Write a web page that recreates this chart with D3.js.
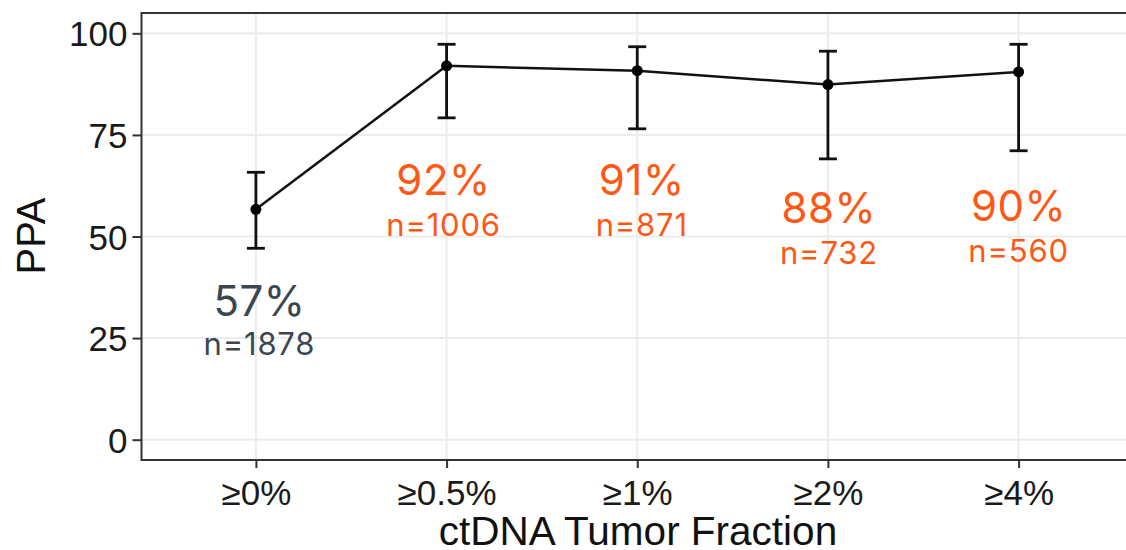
<!DOCTYPE html>
<html>
<head>
<meta charset="utf-8">
<script src="https://cdn.jsdelivr.net/npm/d3@7"></script>
<style>
  body { margin: 0; background: #fff; }
  svg { display: block; }
</style>
</head>
<body>
<svg id="chart" width="1126" height="550"></svg>
<script>
// data
var categories = ["≥0%", "≥0.5%", "≥1%", "≥2%", "≥4%"];
var ppa = [56.7, 92.0, 90.8, 87.4, 90.5];
var ciLow = [47.1, 79.2, 76.5, 69.1, 71.1];
var ciHigh = [65.8, 97.3, 96.7, 95.6, 97.3];
var pctLabels = ["57%", "92%", "91%", "88%", "90%"];
var nLabels = ["n=1878", "n=1006", "n=871", "n=732", "n=560"];
var labelAt = [30.4, 60.3, 60.3, 53.3, 53.8]; // baseline of the % label, in PPA units
var labelDx = [3.5, -3, 4.5, 1, 0];
var yTicks = [0, 25, 50, 75, 100];

var svg = d3.select("#chart");
var pLeft = 141.5, pRight = 1133, pTop = 13, pBottom = 460;

var x = d3.scalePoint().domain(categories).range([pLeft, pRight]).padding(0.6);
var y = d3.scaleLinear().domain([-5, 105]).range([pBottom, pTop]);

var rows = categories.map(function(c, i) {
  return { cat: c, v: ppa[i], lo: ciLow[i], hi: ciHigh[i], pct: pctLabels[i], n: nLabels[i],
           ly: labelAt[i], dx: labelDx[i], first: i === 0 };
});

// grid
svg.append("g").selectAll("line").data(yTicks).join("line")
  .attr("x1", pLeft).attr("x2", pRight)
  .attr("y1", function(d) { return y(d); }).attr("y2", function(d) { return y(d); })
  .attr("stroke", "#ececec").attr("stroke-width", 2);
svg.append("g").selectAll("line").data(categories).join("line")
  .attr("x1", function(d) { return x(d); }).attr("x2", function(d) { return x(d); })
  .attr("y1", pTop).attr("y2", pBottom)
  .attr("stroke", "#ececec").attr("stroke-width", 2);

// axes
var yAxis = svg.append("g").attr("transform", "translate(" + pLeft + ",0)")
  .call(d3.axisLeft(y).tickValues(yTicks).tickSize(9).tickPadding(5));
var xAxis = svg.append("g").attr("transform", "translate(0," + pBottom + ")")
  .call(d3.axisBottom(x).tickSize(8).tickPadding(4));
[yAxis, xAxis].forEach(function(g) {
  g.select(".domain").remove();
  g.selectAll(".tick line").attr("stroke", "#333").attr("stroke-width", 2);
  g.selectAll(".tick text").attr("fill", "#1a1a1a")
    .style("font-family", "'Liberation Sans', Arial, sans-serif").style("font-size", "35px");
});
yAxis.selectAll(".tick text").attr("dy", "0.36em");
xAxis.selectAll(".tick text").attr("dy", "0.95em");

// panel border
svg.append("rect").attr("x", pLeft).attr("y", pTop)
  .attr("width", pRight - pLeft).attr("height", pBottom - pTop)
  .attr("fill", "none").attr("stroke", "#333").attr("stroke-width", 2);

// line
svg.append("path").datum(rows)
  .attr("fill", "none").attr("stroke", "#111").attr("stroke-width", 2.5)
  .attr("d", d3.line().x(function(d) { return x(d.cat); }).y(function(d) { return y(d.v); }));

// error bars
var eb = svg.append("g").attr("stroke", "#111").attr("stroke-width", 2.8);
eb.selectAll("line.bar").data(rows).join("line").attr("class", "bar")
  .attr("x1", function(d) { return x(d.cat); }).attr("x2", function(d) { return x(d.cat); })
  .attr("y1", function(d) { return y(d.lo); }).attr("y2", function(d) { return y(d.hi); });
["lo", "hi"].forEach(function(k) {
  eb.selectAll("line.cap" + k).data(rows).join("line").attr("class", "cap" + k)
    .attr("x1", function(d) { return x(d.cat) - 9; }).attr("x2", function(d) { return x(d.cat) + 9; })
    .attr("y1", function(d) { return y(d[k]); }).attr("y2", function(d) { return y(d[k]); });
});

// points
svg.append("g").selectAll("circle").data(rows).join("circle")
  .attr("cx", function(d) { return x(d.cat); }).attr("cy", function(d) { return y(d.v); })
  .attr("r", 5.5).attr("fill", "#000");

// annotations
var ann = svg.append("g").style("font-family", "Inter, 'Noto Sans', sans-serif")
  .attr("text-anchor", "middle");
ann.selectAll("text.pct").data(rows).join("text").attr("class", "pct")
  .attr("x", function(d) { return x(d.cat) + d.dx; }).attr("y", function(d) { return y(d.ly); })
  .attr("fill", function(d) { return d.first ? "#3a4652" : "#ff5714"; })
  .style("font-size", "42px").style("letter-spacing", "0.5px").text(function(d) { return d.pct; });
ann.selectAll("text.n").data(rows).join("text").attr("class", "n")
  .attr("x", function(d) { return x(d.cat) + d.dx; }).attr("y", function(d) { return y(d.ly) + (d.first ? 39 : 41); })
  .attr("fill", function(d) { return d.first ? "#3a4652" : "#ff5714"; })
  .style("font-size", "31px").style("letter-spacing", "0.8px").text(function(d) { return d.n; });

// axis titles
svg.append("text").attr("x", 638).attr("y", 545)
  .attr("text-anchor", "middle").attr("fill", "#111")
  .style("font-family", "'Liberation Sans', Arial, sans-serif").style("font-size", "40.5px")
  .text("ctDNA Tumor Fraction");
svg.append("text").attr("transform", "translate(45,236) rotate(-90)")
  .attr("text-anchor", "middle").attr("fill", "#111")
  .style("font-family", "'Liberation Sans', Arial, sans-serif").style("font-size", "40px")
  .text("PPA");
</script>
</body>
</html>
